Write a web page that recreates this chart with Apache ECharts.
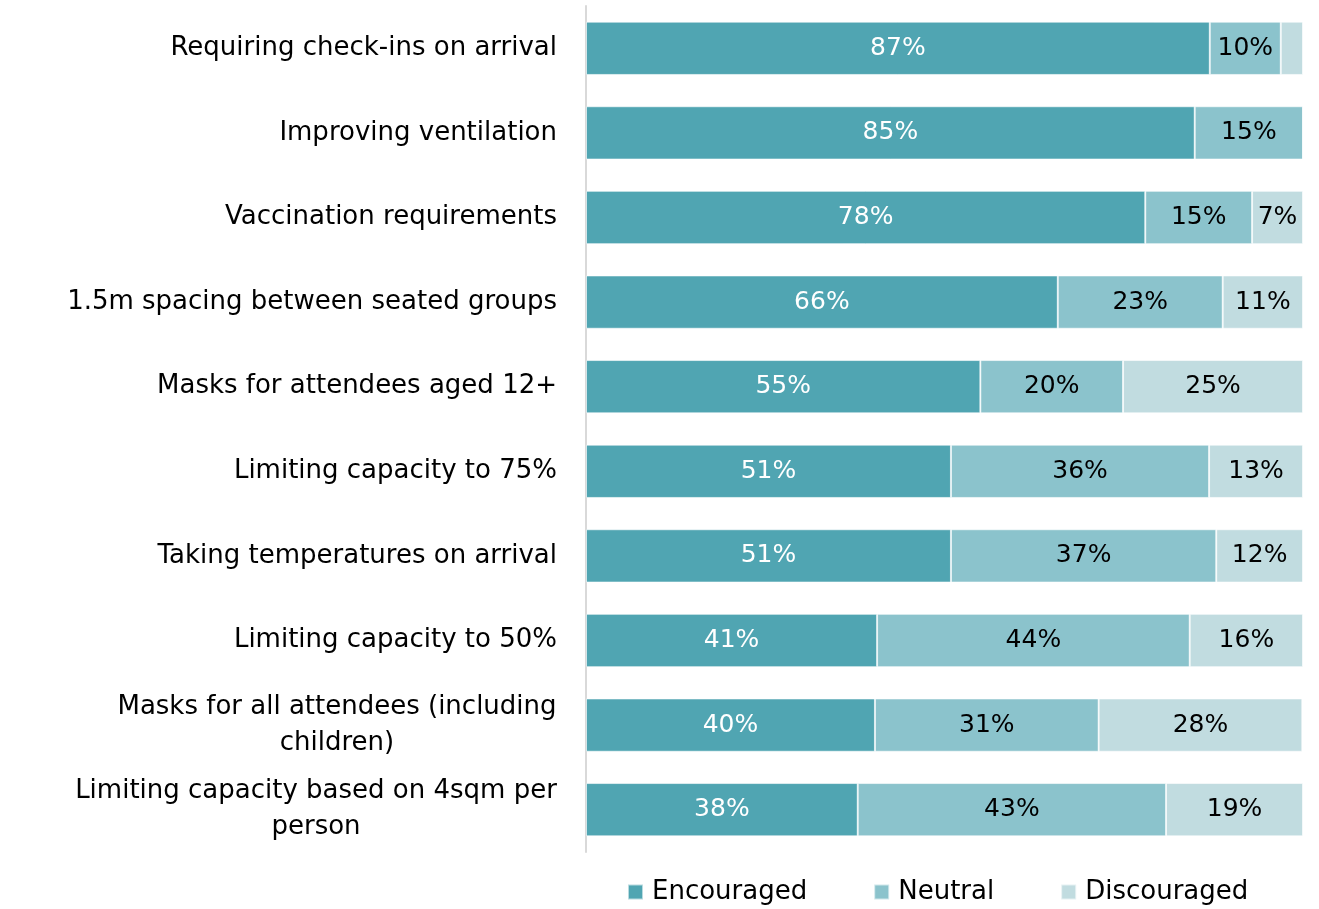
<!DOCTYPE html>
<html>
<head>
<meta charset="utf-8">
<script src="https://cdn.jsdelivr.net/npm/echarts@6/dist/echarts.min.js"></script>
<style>
  html, body { margin: 0; padding: 0; background: #fff; }
  #chart { width: 1319px; height: 909px; }
</style>
</head>
<body>
<div id="chart"></div>
<script>
// 类目（从上到下）
const categories = [
  "Requiring check-ins on arrival",
  "Improving ventilation",
  "Vaccination requirements",
  "1.5m spacing between seated groups",
  "Masks for attendees aged 12+",
  "Limiting capacity to 75%",
  "Taking temperatures on arrival",
  "Limiting capacity to 50%",
  "Masks for all attendees (including children)",
  "Limiting capacity based on 4sqm per person"
];
// 各系列数据（%）
const encouraged = [87.0, 84.9, 78.0, 65.8, 55.0, 50.9, 50.9, 40.6, 40.3, 37.9];
const neutral = [9.9, 15.1, 14.9, 23.0, 19.9, 36.0, 37.0, 43.6, 31.2, 43.0];
const discouraged = [3.1, 0, 7.1, 11.2, 25.1, 13.1, 12.1, 15.8, 28.4, 19.1];

const fontFamily = "'DejaVu Sans', sans-serif";
const labelFontSize = 26;
const labelMaxWidth = 520;

// 量文字宽度，用于类目标签换行后每行居中
const measureCtx = document.createElement("canvas").getContext("2d");
measureCtx.font = labelFontSize + "px " + fontFamily;
const wrapCache = {};
function wrapLabel(text) {
  if (wrapCache[text]) return wrapCache[text];
  const words = text.split(" ");
  const lines = [];
  let line = "";
  words.forEach(function (w) {
    const test = line ? line + " " + w : w;
    if (line && measureCtx.measureText(test).width > labelMaxWidth) {
      lines.push(line);
      line = w;
    } else {
      line = test;
    }
  });
  lines.push(line);
  let maxW = 0;
  lines.forEach(function (l) {
    maxW = Math.max(maxW, measureCtx.measureText(l).width);
  });
  wrapCache[text] = { lines: lines, width: Math.ceil(maxW) };
  return wrapCache[text];
}

const rich = {};
categories.forEach(function (c, i) {
  const info = wrapLabel(c);
  rich["c" + i] = {
    width: info.width,
    align: "center",
    color: "#000",
    fontFamily: fontFamily,
    fontSize: labelFontSize,
    lineHeight: 36
  };
});

const myChart = echarts.init(document.getElementById("chart"));

function makeSeries(name, data, color, labelColor) {
  return {
    name: name,
    type: "bar",
    stack: "total",
    data: data,
    barCategoryGap: "37%",
    itemStyle: {
      color: color,
      borderColor: "rgba(255,255,255,0.6)",
      borderWidth: 1
    },
    label: {
      show: true,
      position: "inside",
      color: labelColor,
      fontFamily: fontFamily,
      fontSize: 25,
      formatter: function (p) {
        // 小于5%不显示
        return p.value < 5 ? "" : Math.round(p.value) + "%";
      }
    },
    emphasis: { disabled: true }
  };
}

const option = {
  animation: false,
  color: ["#50A5B2", "#8BC3CC", "#C1DCE0"],
  grid: {
    left: 586,
    right: 16,
    top: 6,
    bottom: 57,
    outerBoundsMode: "none"
  },
  legend: {
    left: 622,
    top: 874,
    itemWidth: 15,
    itemHeight: 15,
    itemGap: 66,
    icon: "rect",
    textStyle: {
      fontFamily: fontFamily,
      fontSize: 26,
      color: "#000",
      padding: [0, 0, 0, 4]
    },
    data: ["Encouraged", "Neutral", "Discouraged"]
  },
  xAxis: {
    type: "value",
    min: 0,
    max: 100,
    show: false
  },
  yAxis: {
    type: "category",
    inverse: true,
    data: categories,
    axisLine: {
      show: true,
      lineStyle: { color: "#D9D9D9", width: 2 }
    },
    axisTick: { show: false },
    axisLabel: {
      color: "#000",
      fontFamily: fontFamily,
      fontSize: labelFontSize,
      margin: 29,
      align: "right",
      lineHeight: 36,
      rich: rich,
      formatter: function (value, index) {
        const info = wrapLabel(value);
        if (info.lines.length === 1) return value;
        // 多行时每行居中
        return info.lines.map(function (l) {
          return "{c" + index + "|" + l + "}";
        }).join("\n");
      }
    }
  },
  series: [
    makeSeries("Encouraged", encouraged, "#50A5B2", "#fff"),
    makeSeries("Neutral", neutral, "#8BC3CC", "#000"),
    makeSeries("Discouraged", discouraged, "#C1DCE0", "#000")
  ]
};

option && myChart.setOption(option);
</script>
</body>
</html>
